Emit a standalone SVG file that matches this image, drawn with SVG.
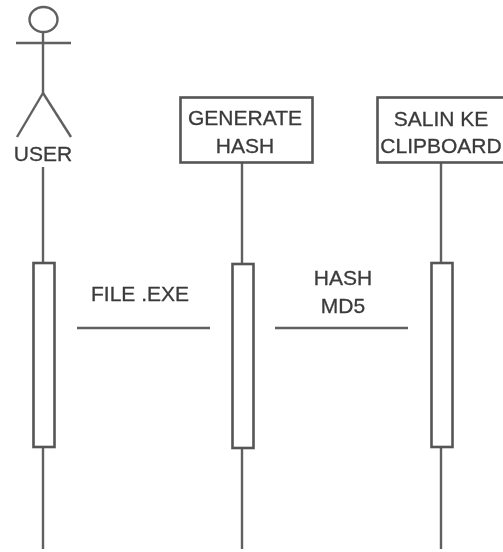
<svg xmlns="http://www.w3.org/2000/svg" width="503" height="552" viewBox="0 0 503 552">
<defs><filter id="soft" x="-5%" y="-5%" width="110%" height="110%"><feGaussianBlur stdDeviation="0.6"/></filter></defs>
<style>
.l{stroke:#606060;stroke-width:2.4;fill:none}
.b{stroke:#555;stroke-width:2.6;fill:#fff}
.t{font-family:"Liberation Sans",Arial,sans-serif;font-size:21px;fill:#3a3a3a;stroke:#3a3a3a;stroke-width:0.3;text-anchor:middle}
</style>
<rect width="503" height="552" fill="#fff"/>
<g filter="url(#soft)">
<g id="connectors">
<line class="l" x1="43" y1="167" x2="43" y2="263"/>
<line class="l" x1="43" y1="447" x2="43" y2="549"/>
<line class="l" x1="242" y1="162" x2="242" y2="264"/>
<line class="l" x1="242" y1="448" x2="242" y2="549"/>
<line class="l" x1="441" y1="162" x2="441" y2="263"/>
<line class="l" x1="441" y1="447" x2="441" y2="549"/>
<line class="l" x1="77" y1="328" x2="210" y2="328"/>
<line class="l" x1="275" y1="328" x2="408" y2="328"/>
<text class="t" x="140" y="301">FILE .EXE</text>
<text class="t" x="343" y="285">HASH</text>
<text class="t" x="343" y="313">MD5</text>
</g>
<g id="user">
<ellipse class="l" cx="43.500" cy="19.500" rx="14" ry="12.500"/>
<line class="l" x1="43" y1="32" x2="43" y2="93"/>
<line class="l" x1="16" y1="43" x2="71" y2="43"/>
<line class="l" x1="43" y1="93" x2="17" y2="137"/>
<line class="l" x1="43" y1="93" x2="71" y2="137"/>
<text class="t" x="43" y="161">USER</text>
</g>
<g id="generate-hash">
<rect class="b" x="180.500" y="97.500" width="132" height="65"/>
<text class="t" x="245" y="125">GENERATE</text>
<text class="t" x="245" y="153">HASH</text>
</g>
<g id="salin-ke-clipboard">
<rect class="b" x="377.500" y="97.500" width="130" height="65"/>
<text class="t" x="441" y="126">SALIN KE</text>
<text class="t" x="441" y="153">CLIPBOARD</text>
</g>
<g id="activation-user"><rect class="b" x="33.500" y="263" width="21" height="184"/></g>
<g id="activation-generate"><rect class="b" x="232.500" y="264" width="21" height="184"/></g>
<g id="activation-salin"><rect class="b" x="431.500" y="263" width="21" height="184"/></g>
</g>
</svg>
